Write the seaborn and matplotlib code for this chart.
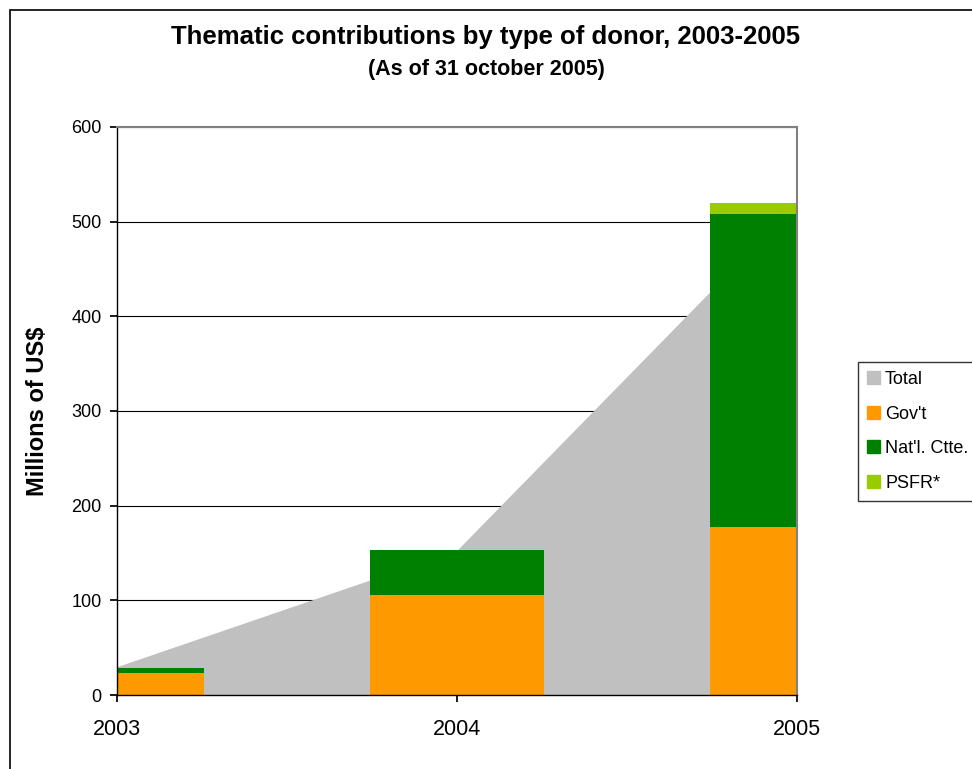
import matplotlib
matplotlib.use("Agg")
import matplotlib.pyplot as plt
import matplotlib.patches as mpatches
import numpy as np
import pandas as pd
import seaborn as sns

years = [2003, 2004, 2005]
total = [30, 153, 520]
govt = [23, 106, 177]
natl = [6, 47, 331]
psfr = [0, 0, 12]
series_names = ["Total", "Gov't", "Nat'l. Ctte.", "PSFR*"]
colors = {"Total": "#C0C0C0", "Gov't": "#FF9900", "Nat'l. Ctte.": "#008000", "PSFR*": "#99CC00"}
yticks = [0, 100, 200, 300, 400, 500, 600]

sns.set_theme(style="white")
plt.rcParams["font.family"] = ["Liberation Sans", "DejaVu Sans"]
plt.rcParams["text.color"] = "black"
plt.rcParams["xtick.color"] = "black"
plt.rcParams["ytick.color"] = "black"
plt.rcParams["axes.labelcolor"] = "black"

fig = plt.figure(figsize=(9.72, 7.69), dpi=100)
ax = fig.add_axes([117/972, 1-695/769, (797-117)/972, (695-127)/769])

df = pd.DataFrame({"year": years, "govt": govt, "natl": natl, "psfr": psfr})
df["lvl1"] = df["govt"]
df["lvl2"] = df["govt"] + df["natl"]
df["lvl3"] = df["lvl2"] + df["psfr"]

# grey area for total
ax.fill_between(years, total, 0, color=colors["Total"], linewidth=0, zorder=1)

for col, name in [("lvl3", "PSFR*"), ("lvl2", "Nat'l. Ctte."), ("lvl1", "Gov't")]:
    sns.barplot(data=df, x="year", y=col, native_scale=True, width=0.51,
                color=colors[name], saturation=1, ax=ax, zorder=2,
                linewidth=0, errorbar=None)

ax.set_xlim(2003, 2005)
ax.set_ylim(0, 600)
ax.set_yticks(yticks)
ax.set_xticks(years)
ax.set_xticklabels([str(y) for y in years], fontsize=15.5)
ax.set_yticklabels([str(v) for v in yticks], fontsize=13)
ax.set_xlabel("")
ax.set_ylabel("Millions of US$", fontsize=17, fontweight="bold", labelpad=16)
ax.yaxis.grid(True, color="black", linewidth=0.8, zorder=0)
ax.set_axisbelow(True)
for s in ["left", "bottom"]:
    ax.spines[s].set_color("black")
    ax.spines[s].set_linewidth(1.0)
for s in ["top", "right"]:
    ax.spines[s].set_color("#808080")
    ax.spines[s].set_linewidth(1.5)
ax.tick_params(axis="both", which="both", length=5, color="black", direction="out",
               left=True, bottom=True, pad=6)
ax.tick_params(axis="x", pad=12)

fig.text(0.5, 1-37/769, "Thematic contributions by type of donor, 2003-2005",
         ha="center", va="center", fontsize=18.5, fontweight="bold")
fig.text(0.5, 1-69/769, "(As of 31 october 2005)",
         ha="center", va="center", fontsize=15.5, fontweight="bold")

handles = [mpatches.Patch(color=colors[n], label=n) for n in series_names]
leg = fig.legend(handles=handles, loc="upper left", bbox_to_anchor=(858/972, 1-362/769),
                 borderaxespad=0, fontsize=13, frameon=True, fancybox=False,
                 handlelength=0.7, handleheight=0.7, labelspacing=0.97, borderpad=0.5,
                 handletextpad=0.3)
leg.get_frame().set_edgecolor("black")
leg.get_frame().set_linewidth(1.0)

border = mpatches.Rectangle((10/972, -0.1), 1.2, 1-10/769+0.1, transform=fig.transFigure,
                            fill=False, edgecolor="black", linewidth=1.2)
fig.patches.append(border)

fig.savefig("out.png", dpi=100)
